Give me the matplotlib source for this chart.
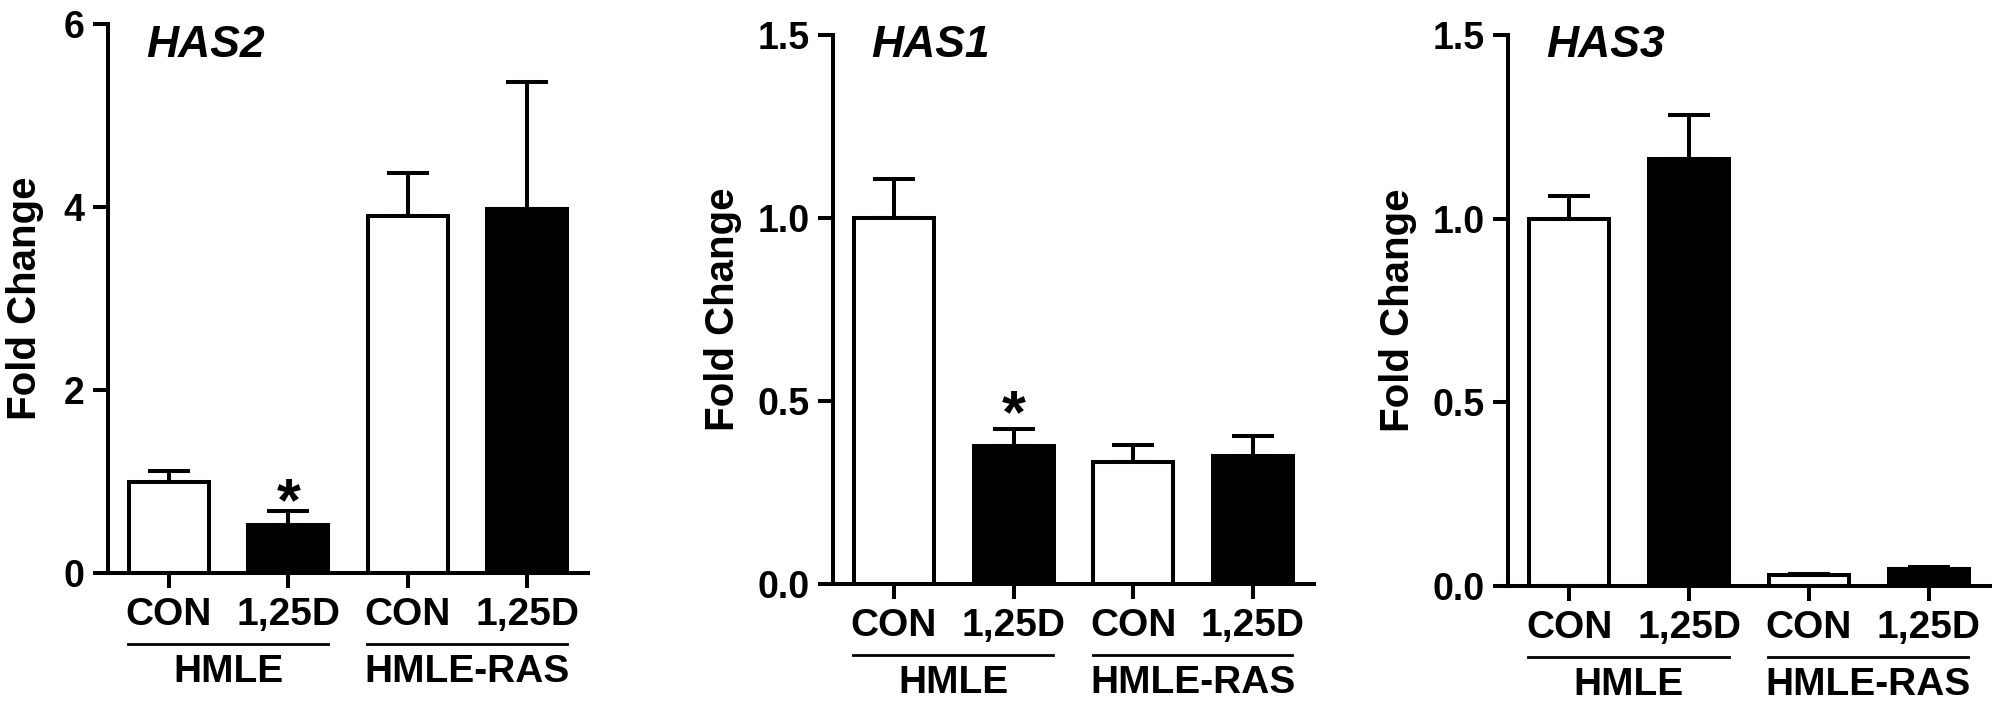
import numpy as np
import matplotlib
matplotlib.use("Agg")
import matplotlib.pyplot as plt
from matplotlib import font_manager

# dane
categories = ["CON", "1,25D", "CON", "1,25D"]
groups = ["HMLE", "HMLE-RAS"]
genes = ["HAS2", "HAS1", "HAS3"]

has2_mean = [1.00, 0.53, 3.90, 3.98]
has2_err = [0.12, 0.15, 0.47, 1.39]
has1_mean = [1.00, 0.376, 0.332, 0.351]
has1_err = [0.107, 0.048, 0.049, 0.054]
has3_mean = [1.00, 1.163, 0.031, 0.045]
has3_err = [0.062, 0.118, 0.002, 0.007]

star_has2 = [None, 0.97, None, None]
star_has1 = [None, 0.514, None, None]
star_has3 = [None, None, None, None]

yticks_has2 = [0, 2, 4, 6]
yticks_has1 = [0.0, 0.5, 1.0, 1.5]
yticks_has3 = [0.0, 0.5, 1.0, 1.5]

fills = ["white", "black", "white", "black"]

names = {f.name for f in font_manager.fontManager.ttflist}
narrow = "Liberation Sans Narrow" if "Liberation Sans Narrow" in names else "Liberation Sans"
plt.rcParams["font.family"] = [narrow, "DejaVu Sans"]
plt.rcParams["font.weight"] = "bold"

W, H = 2000, 708
fig = plt.figure(figsize=(W / 100, H / 100), dpi=100)

# pozycje osi w pikselach: lewo, prawo, gora, dol
boxes = [(108, 588, 24, 573), (833, 1314, 35, 584), (1508, 1990, 35, 586)]
panels = [
    (has2_mean, has2_err, star_has2, yticks_has2, "%d"),
    (has1_mean, has1_err, star_has1, yticks_has1, "%.1f"),
    (has3_mean, has3_err, star_has3, yticks_has3, "%.1f"),
]
lw = 2.9

for k in range(3):
    l, r, t, b = boxes[k]
    ax = fig.add_axes([l / W, (H - b) / H, (r - l) / W, (b - t) / H])
    mean, err, stars, yt, fmt = panels[k]
    x = np.arange(len(mean))

    ax.errorbar(x, mean, yerr=[np.zeros(len(err)), err], fmt="none", ecolor="black",
                elinewidth=lw, capsize=15, capthick=lw, zorder=1)
    ax.bar(x, mean, width=0.67, color=fills, edgecolor="black", linewidth=lw, zorder=2)

    for i, s in enumerate(stars):
        if s is not None:
            ax.annotate("*", (x[i], s), xytext=(0, -26), textcoords="offset points",
                        ha="center", va="baseline", fontsize=44,
                        family="Liberation Sans", weight="bold")

    ax.set_xlim(-0.51, 3.51)
    ax.set_ylim(yt[0], yt[-1])
    ax.set_yticks(yt)
    ax.set_yticklabels([fmt % v for v in yt], fontsize=27)
    ax.set_xticks(x)
    ax.set_xticklabels(categories, fontsize=28)
    ax.tick_params(length=11, width=lw, pad=6, color="black")
    ax.spines["top"].set_visible(False)
    ax.spines["right"].set_visible(False)
    ax.spines["left"].set_linewidth(lw)
    ax.spines["bottom"].set_linewidth(lw)

    hpx = b - t
    wpx = r - l
    off = 83 if k == 0 else 110
    ax.text(-off / wpx, 0.5, "Fold Change", transform=ax.transAxes, rotation=90,
            ha="center", va="center", fontsize=29)

    # linie grup i podpisy
    for g in range(len(groups)):
        x0 = x[2 * g] - 0.34
        x1 = x[2 * g + 1] + 0.33
        ax.plot([x0, x1], [-71 / hpx, -71 / hpx], color="black", lw=2,
                transform=ax.get_xaxis_transform(), clip_on=False)
        ax.text((x0 + x1) / 2, -99 / hpx, groups[g], transform=ax.get_xaxis_transform(),
                ha="center", va="center", fontsize=28)

    fig.text((l + 38) / W, 1 - 57 / H, genes[k], ha="left", va="baseline",
             fontsize=32, family="Liberation Sans", weight="bold", style="italic")

fig.savefig("out.png", dpi=100)
